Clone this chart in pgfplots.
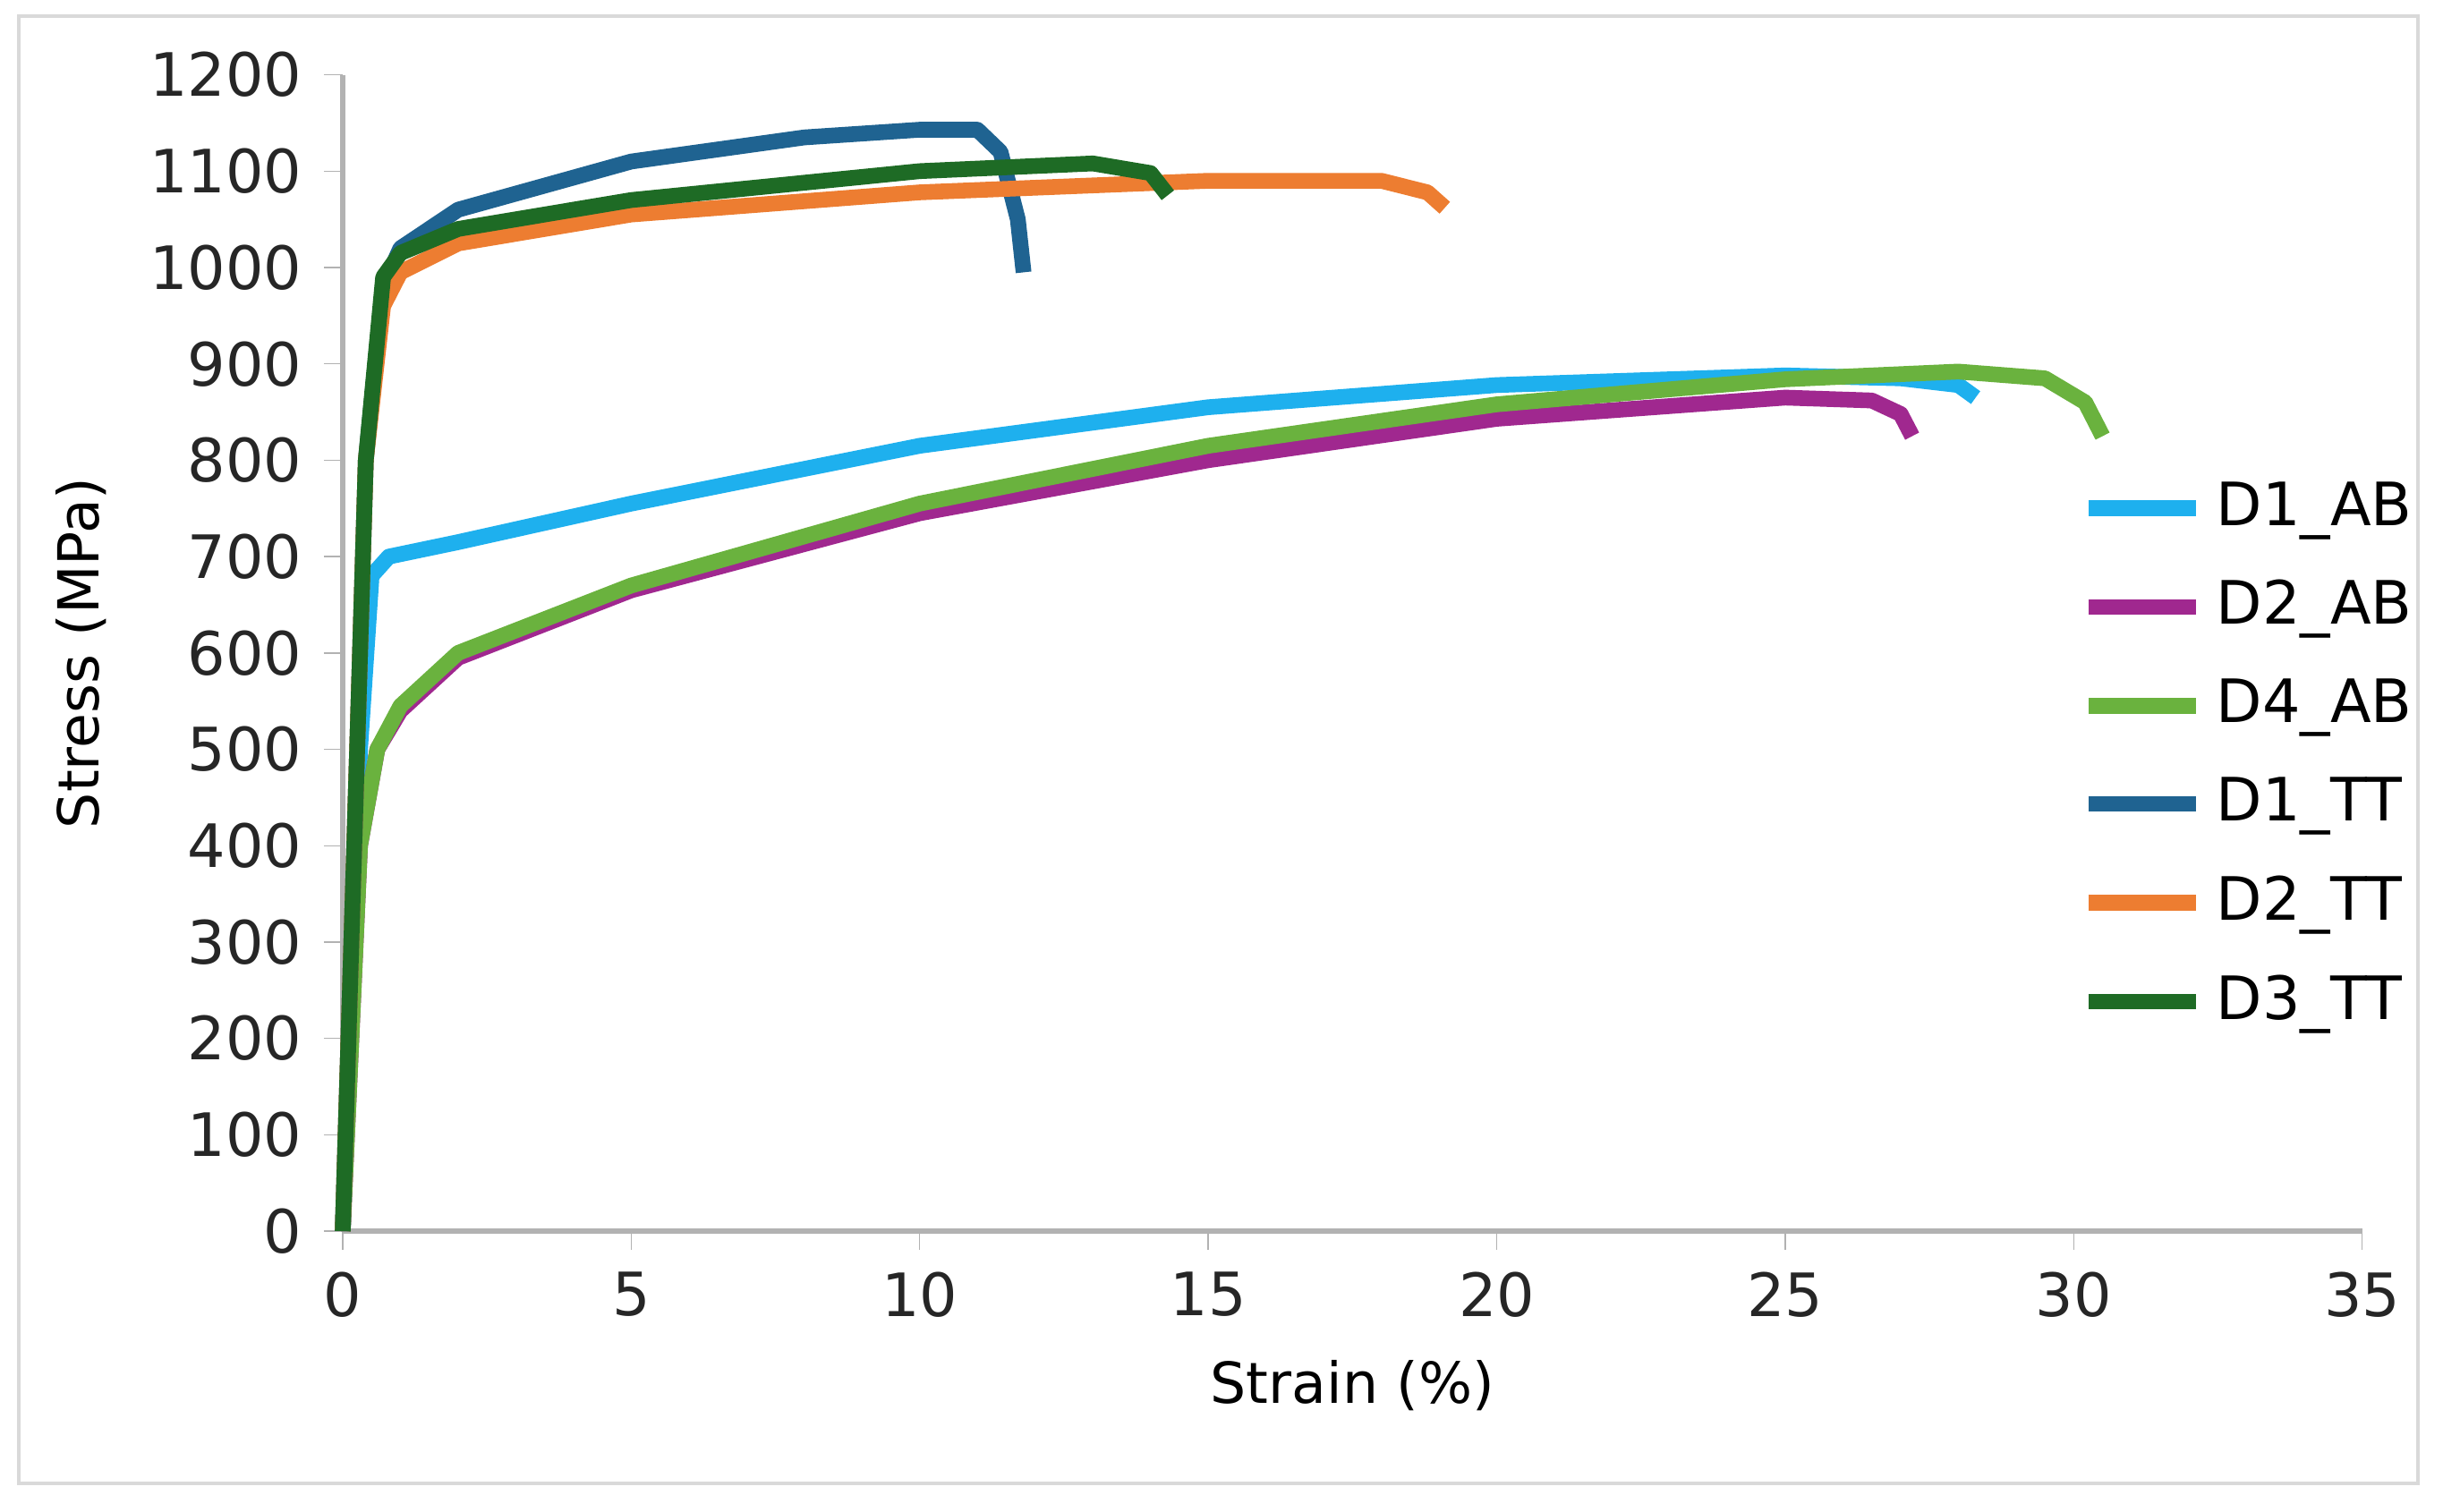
\documentclass[border=0pt]{standalone}
\usepackage{pgfplots}
\pgfplotsset{compat=1.18}
\usepackage{fontspec}
\setmainfont{DejaVu Sans}
\definecolor{cA}{HTML}{1EB0EE}
\definecolor{cB}{HTML}{A0288F}
\definecolor{cC}{HTML}{6AB23E}
\definecolor{cD}{HTML}{1F6391}
\definecolor{cE}{HTML}{ED7D31}
\definecolor{cF}{HTML}{1E6B25}
\begin{document}
\begin{tikzpicture}
\begin{axis}[
  scale only axis, width=11.28cm, height=6.46cm,
  xmin=0, xmax=35, ymin=0, ymax=1200,
  xtick={0,5,...,35}, ytick={0,100,...,1200},
  axis x line=bottom, axis y line=left,
  axis line style={-, gray!60, line width=0.8pt},
  tick style={gray!60}, major tick length=3pt, tick align=outside,
  every tick label/.style={font=\fontsize{9.5}{11}\selectfont, text=black!85},
  /pgf/number format/assume math mode=true,
  /pgf/number format/1000 sep={},
  xlabel={Strain (\%)}, ylabel={Stress (MPa)},
  label style={font=\fontsize{9}{11}\selectfont},
  clip=false,
  legend style={draw=none, fill=none, at={(0.86,0.66)}, anchor=north west,
    font=\fontsize{9.5}{11}\selectfont, row sep=3.2pt, inner sep=0pt},
  legend cell align=left,
  legend image code/.code={\draw[#1, line width=2.5pt] (0cm,0cm) -- (0.6cm,0cm);},
  every axis plot/.append style={line width=2.5pt, line join=round},
]
\path[use as bounding box] (axis cs:-5.94,-291) rectangle (axis cs:36.4,1277.6);
\draw[gray!30, line width=0.6pt] (axis cs:-5.62,-262) rectangle (axis cs:35.97,1261);
\addplot[cA] coordinates {(0,0)(0.3,500)(0.5,680)(0.8,700)(2,715)(5,755)(10,815)(15,855)(20,878)(25,888)(27,885)(28,878)(28.3,865)};
\addlegendentry{D1\_AB}
\addplot[cB] coordinates {(0,0)(0.3,400)(0.6,500)(1,540)(2,595)(5,665)(10,745)(15,800)(20,843)(25,865)(26.5,862)(27,848)(27.2,825)};
\addlegendentry{D2\_AB}
\addplot[cC] coordinates {(0,0)(0.3,400)(0.6,500)(1,545)(2,600)(5,670)(10,755)(15,815)(20,858)(25,884)(28,892)(29.5,885)(30.2,860)(30.5,825)};
\addlegendentry{D4\_AB}
\addplot[cD] coordinates {(0,0)(0.4,800)(0.7,980)(1,1020)(2,1060)(5,1110)(8,1135)(10,1143)(11,1143)(11.4,1120)(11.7,1050)(11.8,995)};
\addlegendentry{D1\_TT}
\addplot[cE] coordinates {(0,0)(0.4,800)(0.7,960)(1,995)(2,1025)(5,1055)(10,1078)(15,1090)(18,1090)(18.8,1078)(19.1,1062)};
\addlegendentry{D2\_TT}
\addplot[cF] coordinates {(0,0)(0.4,800)(0.7,990)(1,1015)(2,1040)(5,1070)(10,1100)(13,1108)(14,1098)(14.3,1075)};
\addlegendentry{D3\_TT}
\end{axis}
\end{tikzpicture}
\end{document}
